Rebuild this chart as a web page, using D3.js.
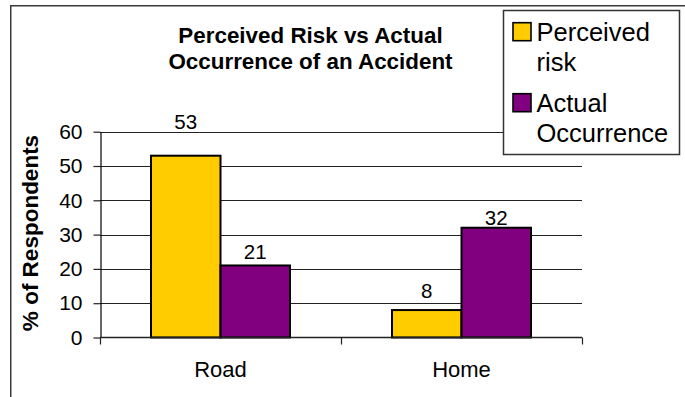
<!DOCTYPE html>
<html>
<head>
<meta charset="utf-8">
<script src="https://cdn.jsdelivr.net/npm/d3@7/dist/d3.min.js"></script>
<style>
  html, body { margin: 0; padding: 0; background: #fff; }
  svg { display: block; }
  text { font-family: "Liberation Sans", Arial, sans-serif; fill: #000; }
</style>
</head>
<body>
<svg id="chart" width="685" height="397"></svg>
<script>
// ---- data ----
const categories = ["Road", "Home"];
const seriesNames = ["Perceived risk", "Actual Occurrence"];
const perceivedRisk = [53, 8];
const actualOccurrence = [21, 32];
const yTicks = [0, 10, 20, 30, 40, 50, 60];
const titleLines = ["Perceived Risk vs Actual", "Occurrence of an Accident"];
const yAxisTitle = "% of Respondents";
const legendLines = [["Perceived", "risk"], ["Actual", "Occurrence"]];

// ---- style / layout ----
const colors = ["#FFCC00", "#800080"];
// label lift above bar tops, per category per series (as in the reference)
const labelLift = [[27, 6], [12, 3]];

const svg = d3.select("#chart");
const W = 685, H = 397;
const plot = { left: 100, right: 582, top: 131.7, bottom: 337.5 };

// outer chart border
svg.append("rect")
  .attr("x", 10.75).attr("y", 5.75)
  .attr("width", 720).attr("height", 440)
  .attr("fill", "#fff").attr("stroke", "#3a3a3a").attr("stroke-width", 1.5);

const x0 = d3.scaleBand().domain(categories).range([plot.left, plot.right]).padding(0);
const x1 = d3.scaleBand().domain(seriesNames).range([51, x0.bandwidth() - 51]).padding(0);
const y = d3.scaleLinear().domain([0, 60]).range([plot.bottom, plot.top]);

// gridlines
svg.append("g").selectAll("line")
  .data(yTicks.filter(d => d > 0))
  .join("line")
  .attr("x1", plot.left).attr("x2", plot.right)
  .attr("y1", d => Math.round(y(d)) + 0.5).attr("y2", d => Math.round(y(d)) + 0.5)
  .attr("stroke", "#222").attr("stroke-width", 1.2);

// y axis
const yAxis = svg.append("g")
  .attr("transform", `translate(${plot.left + 0.5},0)`)
  .call(d3.axisLeft(y).tickValues(yTicks).tickSize(7).tickPadding(11).tickSizeOuter(0));
yAxis.select(".domain").attr("stroke", "#000").attr("stroke-width", 1.2);
yAxis.selectAll(".tick line").attr("stroke", "#222").attr("stroke-width", 1.2);
yAxis.selectAll(".tick text")
  .style("font-family", "'Liberation Sans', Arial, sans-serif")
  .style("font-size", "21px").attr("fill", "#000");

// data
const rows = categories.map((c, i) => ({
  cat: c, ci: i,
  vals: [perceivedRisk[i], actualOccurrence[i]]
}));

const groups = svg.append("g").selectAll("g")
  .data(rows).join("g")
  .attr("transform", d => `translate(${x0(d.cat)},0)`);

groups.selectAll("rect")
  .data(d => d.vals.map((v, si) => ({ v, si, ci: d.ci })))
  .join("rect")
  .attr("x", d => x1(seriesNames[d.si]))
  .attr("y", d => y(d.v))
  .attr("width", x1.bandwidth())
  .attr("height", d => y(0) - y(d.v))
  .attr("fill", d => colors[d.si])
  .attr("stroke", "#000").attr("stroke-width", 2);

groups.selectAll("text.lbl")
  .data(d => d.vals.map((v, si) => ({ v, si, ci: d.ci })))
  .join("text").attr("class", "lbl")
  .attr("x", d => x1(seriesNames[d.si]) + x1.bandwidth() / 2)
  .attr("y", d => y(d.v) - labelLift[d.ci][d.si])
  .attr("text-anchor", "middle")
  .style("font-size", "20.5px")
  .text(d => d.v);

// x axis line and category ticks
svg.append("line")
  .attr("x1", plot.left).attr("x2", plot.right)
  .attr("y1", plot.bottom).attr("y2", plot.bottom)
  .attr("stroke", "#222").attr("stroke-width", 1.5);
const bounds = categories.map(c => x0(c)).concat([plot.right]);
svg.append("g").selectAll("line")
  .data(bounds).join("line")
  .attr("x1", d => d + 0.5).attr("x2", d => d + 0.5)
  .attr("y1", plot.bottom).attr("y2", plot.bottom + 7)
  .attr("stroke", "#222").attr("stroke-width", 1.2);

svg.append("g").selectAll("text")
  .data(categories).join("text")
  .attr("x", d => x0(d) + x0.bandwidth() / 2)
  .attr("y", 376.7)
  .attr("text-anchor", "middle")
  .style("font-size", "22px")
  .text(d => d);

// y axis title
svg.append("text")
  .attr("transform", "translate(37.5,233) rotate(-90)")
  .attr("text-anchor", "middle")
  .style("font-size", "22.5px").style("font-weight", "bold")
  .text(yAxisTitle);

// chart title
svg.append("g").selectAll("text")
  .data(titleLines).join("text")
  .attr("x", 310.5)
  .attr("y", (d, i) => 42.7 + i * 26.6)
  .attr("text-anchor", "middle")
  .style("font-size", "22.4px").style("font-weight", "bold")
  .text(d => d);

// legend
const lg = svg.append("g");
lg.append("rect")
  .attr("x", 503.5).attr("y", 10.5)
  .attr("width", 176).attr("height", 144)
  .attr("fill", "#fff").attr("stroke", "#333").attr("stroke-width", 1.5);
const entryTop = [40.7, 111.7];
legendLines.forEach((lines, i) => {
  lg.append("rect")
    .attr("x", 513).attr("y", entryTop[i] - 18)
    .attr("width", 18).attr("height", 18)
    .attr("fill", colors[i]).attr("stroke", "#000").attr("stroke-width", 1.6);
  lines.forEach((t, j) => {
    lg.append("text")
      .attr("x", 536.5).attr("y", entryTop[i] + j * 30)
      .style("font-size", "25.5px")
      .text(t);
  });
});
</script>
</body>
</html>
